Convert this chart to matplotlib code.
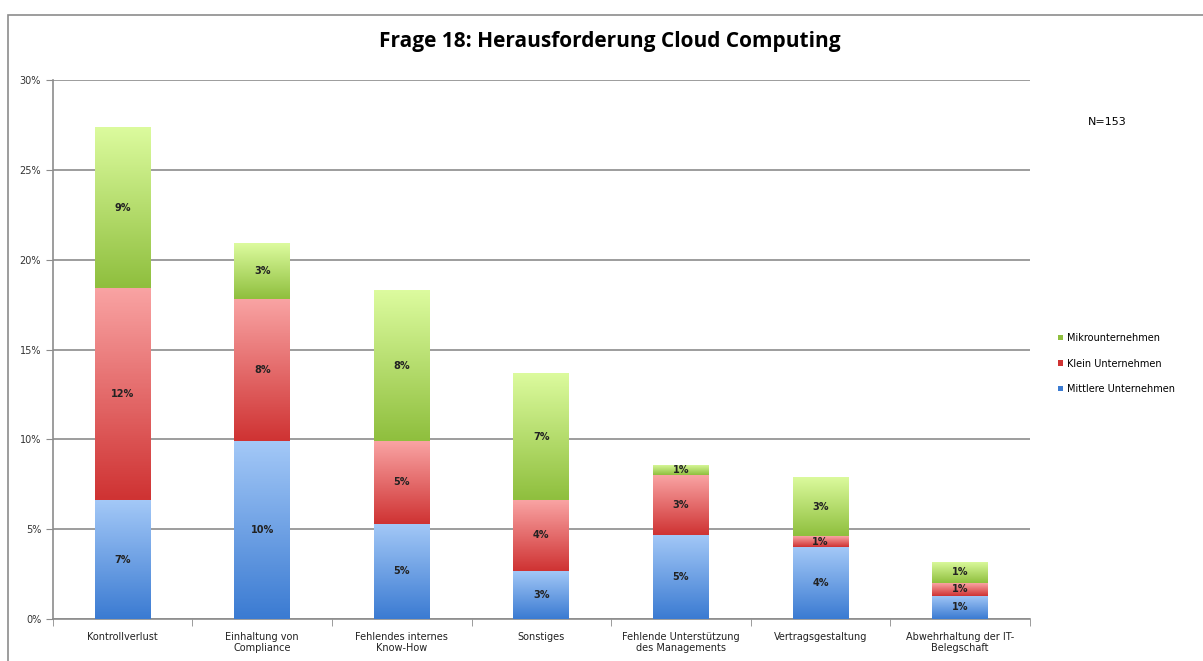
import numpy as np
import matplotlib.pyplot as plt
from matplotlib.colors import LinearSegmentedColormap
from matplotlib.patches import Rectangle

# Daten (Prozent der Antworten, N=153)
kategorien = ["Kontrollverlust", "Einhaltung von\nCompliance", "Fehlendes internes\nKnow-How",
              "Sonstiges", "Fehlende Unterstützung\ndes Managements", "Vertragsgestaltung",
              "Abwehrhaltung der IT-\nBelegschaft"]
mittlere = [6.6, 9.9, 5.3, 2.7, 4.7, 4.0, 1.3]
klein = [11.8, 7.9, 4.6, 3.9, 3.3, 0.6, 0.7]
mikro = [9.0, 3.1, 8.4, 7.1, 0.6, 3.3, 1.2]

serien = [("Mittlere Unternehmen", mittlere, "#3b7bd2", "#a3c8f7"),
          ("Klein Unternehmen", klein, "#cf3333", "#f9a3a3"),
          ("Mikrounternehmen", mikro, "#8fbf3e", "#dcfb9e")]

fig = plt.figure(figsize=(12.03, 6.61), dpi=100)
fig.patches.append(Rectangle((0.007, -0.05), 1.05, 1.027, transform=fig.transFigure,
                             fill=False, edgecolor="#8c8c8c", linewidth=1.2))
ax = fig.add_axes([0.044, 0.0635, 0.812, 0.8155])

x = np.arange(len(kategorien))
breite = 0.4
unten = np.zeros(len(kategorien))
griffe = []
for name, werte, dunkel, hell in serien:
    cmap = LinearSegmentedColormap.from_list(name, [dunkel, hell])
    bars = ax.bar(x, werte, breite, bottom=unten, color=dunkel, linewidth=0, zorder=2, label=name)
    griffe.append(bars)
    for b, w, u in zip(bars, werte, unten):
        verlauf = np.linspace(0, 1, 100).reshape(-1, 1)
        img = ax.imshow(verlauf, cmap=cmap, origin="lower", aspect="auto",
                        extent=[b.get_x(), b.get_x() + b.get_width(), u, u + w], zorder=3)
        img.set_clip_path(b)
        ax.text(b.get_x() + b.get_width() / 2, u + w / 2, "%d%%" % round(w),
                ha="center", va="center", fontsize=7, fontweight="bold", color="#222222", zorder=4)
    unten += np.array(werte)

ax.set_xlim(-0.5, len(kategorien) - 0.5)
ax.set_ylim(0, 30)
ax.set_yticks(range(0, 31, 5))
ax.set_yticklabels(["%d%%" % v for v in range(0, 31, 5)], fontsize=7, color="#333333")
ax.set_xticks(x)
ax.set_xticklabels(kategorien, fontsize=7, color="#222222")
ax.set_xticks(np.arange(-0.5, len(kategorien)), minor=True)
ax.tick_params(axis="x", which="major", length=0, pad=9)
ax.tick_params(axis="x", which="minor", length=5, color="#8c8c8c")
ax.tick_params(axis="y", length=5, color="#8c8c8c")
ax.yaxis.grid(True, color="#8c8c8c", linewidth=1.2, zorder=0)
ax.set_axisbelow(True)
for s in ["top", "right"]:
    ax.spines[s].set_visible(False)
for s in ["left", "bottom"]:
    ax.spines[s].set_color("#8c8c8c")
    ax.spines[s].set_linewidth(1.2)

fig.suptitle("Frage 18: Herausforderung Cloud Computing", x=0.507, y=0.953,
             fontsize=15, fontweight="bold", family="Open Sans")
fig.text(0.92, 0.815, "N=153", fontsize=8, ha="center", va="center")

leg = fig.legend(griffe[::-1], [s[0] for s in serien][::-1], loc="center left",
                 bbox_to_anchor=(0.872, 0.45), frameon=False, fontsize=7,
                 handlelength=0.5, handleheight=0.5, labelspacing=1.6, handletextpad=0.5)
for h, s in zip(leg.legend_handles, serien[::-1]):
    h.set_color(s[2])

fig.savefig("out.png", dpi=100)
